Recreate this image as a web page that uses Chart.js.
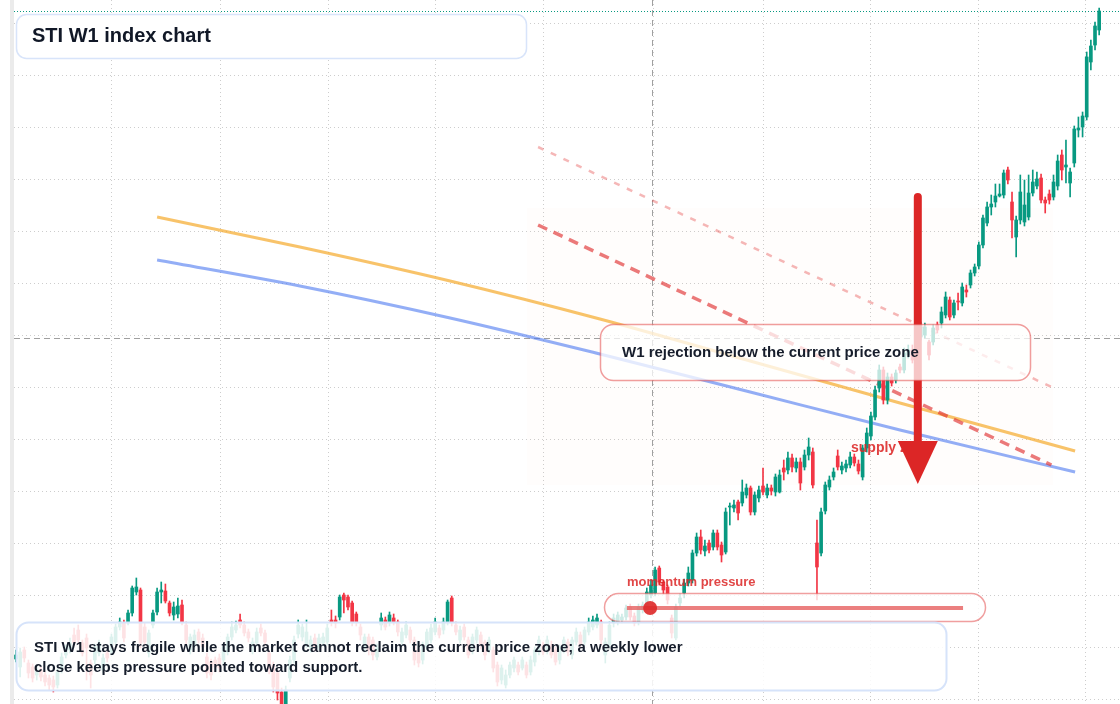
<!DOCTYPE html>
<html>
<head>
<meta charset="utf-8">
<title>STI W1 index chart</title>
<script src="https://cdn.jsdelivr.net/npm/chart.js@4.4.1/dist/chart.umd.min.js"></script>
<style>
    html, body { margin: 0; padding: 0; background: #ffffff; }
    #wrap { width: 1120px; height: 704px; }
</style>
</head>
<body>
<div id="wrap"><canvas id="chart" width="1120" height="704"></canvas></div>
<script>
// ==========================================================
// STI W1 - weekly candles
// ==========================================================

const opens = [
    3041,3033,3050,3037,3033,3025,3030,3025,3022,3020,
    3015,3030,3045,3050,3065,3070,3057,3062,3037,3040,
    3047,3030,3047,3048,3058,3073,3077,3078,3087,3108,
    3110,3073,3047,3075,3088,3108,3109,3097,3085,3086,
    3095,3075,3050,3055,3068,3062,3043,3038,3040,3042,
    3040,3048,3063,3070,3080,3075,3068,3050,3057,3072,
    3067,3047,3035,3027,3008,2972,3022,3040,3066,3063,
    3055,3052,3062,3053,3057,3058,3080,3080,3083,3105,
    3103,3097,3086,3073,3053,3063,3060,3043,3075,3080,
    3078,3082,3078,3058,3065,3070,3060,3050,3040,3053,
    3060,3068,3072,3070,3078,3102,3075,3060,3073,3060,
    3050,3060,3065,3058,3050,3050,3035,3020,3015,3025,
    3032,3035,3032,3035,3028,3038,3048,3055,3050,3055,
    3050,3040,3050,3058,3045,3058,3065,3058,3068,3073,
    3075,3078,3045,3055,3077,3078,3080,3083,3093,3084,
    3078,3090,3093,3105,3107,3132,3118,3113,3082,3062,
    3097,3107,3117,3120,3147,3163,3149,3157,3153,3167,
    3155,3148,3193,3192,3198,3197,3205,3212,3188,3202,
    3214,3205,3212,3208,3208,3232,3230,3242,3232,3238,
    3233,3245,3248,3157,3147,3189,3213,3223,3244,3230,
    3232,3235,3243,3236,3223,3252,3264,3283,3312,3330,
    3300,3323,3320,3333,3330,3345,3350,3350,3363,3365,
    3358,3358,3375,3377,3385,3400,3385,3399,3397,3410,
    3415,3427,3434,3455,3477,3493,3498,3504,3505,3530,
    3498,3463,3480,3478,3483,3507,3514,3522,3500,3506,
    3503,3514,3545,3533,3517,3537,3570,3573,3583,3638,
    3655,3670
];

const highs = [
    3050,3052,3053,3040,3036,3034,3033,3028,3025,3024,
    3031,3047,3055,3062,3072,3075,3060,3066,3040,3056,
    3060,3046,3050,3066,3076,3082,3080,3090,3114,3122,
    3112,3077,3070,3090,3112,3118,3116,3099,3098,3102,
    3100,3078,3066,3070,3071,3066,3047,3041,3043,3046,
    3056,3066,3078,3079,3086,3078,3071,3062,3072,3076,
    3070,3050,3038,3030,3012,3014,3044,3064,3080,3076,
    3080,3064,3066,3066,3067,3076,3090,3084,3105,3107,
    3105,3099,3088,3076,3066,3066,3063,3056,3087,3083,
    3088,3086,3080,3072,3078,3073,3063,3053,3058,3071,
    3076,3082,3075,3082,3100,3104,3078,3074,3076,3063,
    3066,3073,3068,3060,3063,3053,3038,3035,3030,3038,
    3043,3038,3043,3038,3044,3053,3064,3058,3064,3059,
    3053,3055,3063,3061,3063,3072,3068,3073,3082,3084,
    3086,3080,3062,3078,3086,3088,3086,3095,3096,3087,
    3096,3098,3112,3120,3133,3134,3120,3115,3085,3096,
    3106,3121,3133,3150,3167,3170,3160,3160,3170,3170,
    3158,3192,3197,3200,3200,3220,3216,3214,3208,3214,
    3232,3216,3215,3226,3230,3240,3248,3246,3242,3242,
    3250,3262,3252,3180,3192,3218,3224,3232,3250,3238,
    3240,3248,3246,3240,3255,3272,3288,3314,3335,3333,
    3327,3326,3330,3336,3352,3355,3355,3364,3378,3377,
    3360,3375,3378,3393,3408,3403,3400,3407,3417,3415,
    3430,3436,3458,3485,3498,3505,3516,3516,3530,3533,
    3508,3484,3525,3520,3525,3530,3528,3526,3503,3510,
    3525,3545,3550,3560,3532,3574,3583,3588,3648,3660,
    3678,3692
];

const lows = [
    3038,3023,3038,3022,3018,3020,3019,3014,3010,3008,
    3012,3027,3042,3047,3054,3056,3044,3020,3012,3036,
    3044,3027,3038,3045,3055,3070,3058,3075,3084,3105,
    3052,3055,3043,3072,3085,3097,3097,3084,3080,3082,
    3075,3056,3046,3052,3057,3050,3022,3020,3028,3028,
    3036,3045,3060,3067,3072,3064,3058,3046,3054,3064,
    3055,3026,3008,3000,2950,2955,3018,3037,3062,3059,
    3052,3048,3049,3050,3054,3055,3074,3072,3080,3087,
    3090,3074,3074,3060,3048,3045,3040,3040,3070,3070,
    3074,3075,3064,3054,3062,3057,3035,3033,3036,3050,
    3057,3065,3062,3066,3075,3074,3065,3057,3060,3042,
    3046,3057,3051,3040,3047,3028,3014,3016,3012,3022,
    3028,3025,3030,3022,3025,3034,3045,3045,3046,3042,
    3035,3036,3047,3044,3041,3055,3052,3055,3065,3070,
    3072,3055,3037,3052,3073,3075,3077,3080,3080,3074,
    3075,3087,3090,3102,3104,3115,3106,3096,3062,3060,
    3094,3102,3114,3117,3144,3146,3144,3147,3150,3150,
    3138,3146,3175,3188,3180,3194,3202,3185,3185,3198,
    3205,3202,3205,3204,3207,3220,3226,3228,3228,3210,
    3230,3240,3212,3100,3144,3186,3210,3220,3230,3226,
    3228,3232,3234,3226,3220,3248,3260,3280,3308,3296,
    3296,3314,3317,3327,3327,3342,3337,3347,3360,3362,
    3340,3355,3367,3372,3382,3380,3382,3390,3394,3403,
    3412,3424,3431,3452,3474,3485,3493,3503,3502,3516,
    3462,3443,3476,3474,3480,3504,3511,3497,3487,3496,
    3500,3510,3520,3517,3503,3533,3563,3563,3580,3630,
    3650,3665
];

const closes = [
    3045,3048,3042,3027,3022,3030,3023,3018,3015,3013,
    3028,3043,3052,3057,3057,3060,3047,3052,3025,3053,
    3057,3042,3042,3063,3073,3078,3062,3087,3112,3113,
    3057,3058,3067,3087,3108,3110,3099,3087,3093,3094,
    3078,3060,3063,3065,3060,3053,3027,3025,3033,3032,
    3053,3063,3073,3075,3075,3067,3062,3058,3068,3067,
    3058,3030,3013,3007,2970,3010,3040,3060,3075,3073,
    3068,3060,3052,3062,3063,3072,3078,3077,3103,3100,
    3093,3078,3078,3065,3063,3050,3045,3052,3082,3073,
    3085,3078,3068,3068,3075,3060,3040,3037,3055,3068,
    3072,3078,3065,3078,3098,3078,3068,3070,3063,3045,
    3063,3070,3055,3045,3060,3032,3018,3032,3025,3035,
    3040,3028,3040,3025,3040,3050,3060,3048,3060,3045,
    3038,3052,3060,3048,3060,3068,3055,3070,3078,3080,
    3082,3060,3058,3075,3082,3085,3083,3092,3083,3077,
    3093,3095,3108,3115,3130,3118,3110,3100,3067,3093,
    3102,3117,3127,3147,3163,3150,3154,3150,3167,3153,
    3145,3188,3194,3195,3187,3208,3212,3188,3205,3210,
    3208,3212,3209,3223,3225,3228,3242,3233,3238,3217,
    3245,3253,3215,3133,3188,3215,3220,3228,3233,3234,
    3236,3243,3237,3229,3252,3267,3284,3310,3330,3300,
    3323,3317,3327,3330,3347,3350,3340,3360,3373,3373,
    3345,3372,3370,3388,3403,3383,3397,3398,3413,3408,
    3427,3433,3455,3482,3493,3496,3504,3506,3527,3520,
    3480,3480,3508,3495,3507,3518,3521,3500,3497,3500,
    3518,3539,3530,3535,3528,3571,3572,3584,3643,3654,
    3674,3689
];

// Half-year separators (week index) and price grid
const gridWeeks = [22.9, 49.2, 75.2, 101.2, 127.2, 153.5, 180.0, 205.8, 232.0, 257.8];
const gridPrices = [3677, 3625, 3573, 3521, 3469, 3417, 3365, 3313, 3261, 3209, 3157, 3105, 3053, 3001];

// Projected averages
const averageWeeks = [34.0, 68.4, 104.6, 140.7, 176.9, 213.0, 255.2];
const fastAverage = [3483, 3453, 3419, 3381, 3339, 3297, 3249];
const slowAverage = [3440, 3414, 3382, 3346, 3308, 3270, 3228];

// Falling channel
const channelWeeks = [125.8, 249.5];
const channelUpper = [3553, 3313];
const channelLower = [3475, 3235];

// Annotations
const zoneWeeks = [123.1, 249.9];
const zonePrices = [3215, 3492];
const crossWeek = 153.3;
const crossPrice = 3362;
const arrowWeek = 217.3;
const arrowPrices = [3503, 3259, 3216];
const momentumWeeks = [147.2, 228.2];
const momentumDotWeek = 152.8;
const momentumPrice = 3092;

// ==========================================================
// Colours
// ==========================================================

const CORES = {
    alta: "#089981",
    baixa: "#F23645",
    laranja: "rgba(245,166,35,0.68)",
    azul: "rgba(75,120,240,0.6)",
    canal: "rgba(225,50,50,0.65)",
    canalClaro: "rgba(225,50,50,0.35)",
    vermelho: "#DC2626",
    grade: "#cdcdcd",
    texto: "#161d2b"
};

const FONTE = "'Liberation Sans', Arial, sans-serif";

const weeks = closes.map((_, i) => i);
const candleColors = weeks.map(i => closes[i] >= opens[i] ? CORES.alta : CORES.baixa);

// ==========================================================
// Overlay drawing
// ==========================================================

function roundBox(ctx, x, y, w, h, r, fill, stroke, lw){
    ctx.beginPath();
    ctx.roundRect(x, y, w, h, r);
    ctx.fillStyle = fill;
    ctx.fill();
    ctx.lineWidth = lw;
    ctx.strokeStyle = stroke;
    ctx.stroke();
}

const overlayPlugin = {

    id: "overlay",

    beforeDraw(chart){
        const {ctx, width, height} = chart;
        ctx.save();
        ctx.fillStyle = "#ffffff";
        ctx.fillRect(0, 0, width, height);
        ctx.fillStyle = "#ebebeb";
        ctx.fillRect(10, 0, 4, height);
        ctx.restore();
    },

    beforeDatasetsDraw(chart){
        const {ctx, chartArea: a, scales: {x, y}} = chart;
        ctx.save();

        // supply zone
        const zx0 = x.getPixelForValue(zoneWeeks[0]);
        const zx1 = x.getPixelForValue(zoneWeeks[1]);
        const zy0 = y.getPixelForValue(zonePrices[1]);
        const zy1 = y.getPixelForValue(zonePrices[0]);
        ctx.fillStyle = "rgba(240,160,120,0.025)";
        ctx.fillRect(zx0, zy0, zx1 - zx0, zy1 - zy0);

        // crosshair
        ctx.lineWidth = 1;
        ctx.strokeStyle = "#a0a0a0";
        ctx.setLineDash([6, 4]);
        const cx = Math.round(x.getPixelForValue(crossWeek)) + 0.5;
        ctx.beginPath();
        ctx.moveTo(cx, a.top);
        ctx.lineTo(cx, a.bottom);
        ctx.stroke();
        const cy = Math.round(y.getPixelForValue(crossPrice)) + 0.5;
        ctx.beginPath();
        ctx.moveTo(a.left, cy);
        ctx.lineTo(a.right, cy);
        ctx.stroke();

        // last close
        ctx.strokeStyle = CORES.alta;
        ctx.setLineDash([1, 2]);
        const ly = Math.round(y.getPixelForValue(closes[closes.length - 1])) + 0.5;
        ctx.beginPath();
        ctx.moveTo(a.left, ly);
        ctx.lineTo(a.right, ly);
        ctx.stroke();

        ctx.restore();
    },

    afterDatasetsDraw(chart){
        const {ctx, scales: {x, y}} = chart;
        ctx.save();
        ctx.textBaseline = "middle";
        ctx.textAlign = "left";

        // supply zone label
        ctx.font = "bold 14px " + FONTE;
        ctx.fillStyle = "rgba(220,38,38,0.88)";
        ctx.fillText("supply zone", 851, 448);

        // arrow
        const ax = x.getPixelForValue(arrowWeek);
        ctx.strokeStyle = CORES.vermelho;
        ctx.lineWidth = 8;
        ctx.lineCap = "round";
        ctx.beginPath();
        ctx.moveTo(ax, y.getPixelForValue(arrowPrices[0]));
        ctx.lineTo(ax, y.getPixelForValue(arrowPrices[1]) + 4);
        ctx.stroke();
        ctx.fillStyle = CORES.vermelho;
        ctx.beginPath();
        ctx.moveTo(ax - 20, y.getPixelForValue(arrowPrices[1]));
        ctx.lineTo(ax + 20, y.getPixelForValue(arrowPrices[1]));
        ctx.lineTo(ax, y.getPixelForValue(arrowPrices[2]));
        ctx.closePath();
        ctx.fill();

        // rejection label
        roundBox(ctx, 600.5, 324.5, 430, 56, 13, "rgba(255,255,255,0.74)", "rgba(225,60,60,0.5)", 1.5);
        ctx.font = "bold 15px " + FONTE;
        ctx.fillStyle = CORES.texto;
        ctx.fillText("W1 rejection below the current price zone", 622, 353);

        // momentum pressure
        roundBox(ctx, 604.5, 593.5, 381, 28, 14, "rgba(255,255,255,0.8)", "rgba(228,80,80,0.55)", 1.5);
        const my = y.getPixelForValue(momentumPrice);
        ctx.strokeStyle = "rgba(230,95,95,0.8)";
        ctx.lineWidth = 4;
        ctx.lineCap = "butt";
        ctx.beginPath();
        ctx.moveTo(x.getPixelForValue(momentumWeeks[0]), my);
        ctx.lineTo(x.getPixelForValue(momentumWeeks[1]), my);
        ctx.stroke();
        ctx.fillStyle = "rgba(222,40,40,0.9)";
        ctx.beginPath();
        ctx.arc(x.getPixelForValue(momentumDotWeek), my, 7, 0, Math.PI * 2);
        ctx.fill();
        ctx.font = "bold 13px " + FONTE;
        ctx.fillStyle = "rgba(220,38,38,0.85)";
        ctx.fillText("momentum pressure", 627, 582);

        // title
        roundBox(ctx, 16.5, 14.5, 510, 44, 10, "#ffffff", "#d8e4fa", 1.5);
        ctx.font = "bold 20px " + FONTE;
        ctx.fillStyle = "#111827";
        ctx.fillText("STI W1 index chart", 32, 36);

        // commentary
        roundBox(ctx, 16.5, 622.5, 930, 68, 12, "rgba(255,255,255,0.86)", "#d6e3fa", 2);
        ctx.font = "bold 15px " + FONTE;
        ctx.fillStyle = CORES.texto;
        ctx.fillText("STI W1 stays fragile while the market cannot reclaim the current price zone; a weekly lower", 34, 648);
        ctx.fillText("close keeps pressure pointed toward support.", 34, 668);

        ctx.restore();
    }

};

// ==========================================================
// Chart
// ==========================================================

new Chart(document.getElementById("chart"), {

    type: "bar",

    data: {
        datasets: [
            {
                type: "line",
                data: averageWeeks.map((w, k) => ({x: w, y: slowAverage[k]})),
                borderColor: CORES.azul,
                borderWidth: 3,
                pointRadius: 0,
                cubicInterpolationMode: "monotone",
                order: 6
            },
            {
                type: "line",
                data: averageWeeks.map((w, k) => ({x: w, y: fastAverage[k]})),
                borderColor: CORES.laranja,
                borderWidth: 3,
                pointRadius: 0,
                cubicInterpolationMode: "monotone",
                order: 5
            },
            {
                type: "line",
                data: channelWeeks.map((w, k) => ({x: w, y: channelUpper[k]})),
                borderColor: CORES.canalClaro,
                borderWidth: 2.5,
                borderDash: [6, 8],
                pointRadius: 0,
                order: 4
            },
            {
                type: "line",
                data: channelWeeks.map((w, k) => ({x: w, y: channelLower[k]})),
                borderColor: CORES.canal,
                borderWidth: 3.5,
                borderDash: [10, 7],
                pointRadius: 0,
                order: 3
            },
            {
                data: weeks.map(i => ({x: i, y: [lows[i], highs[i]]})),
                backgroundColor: candleColors,
                barThickness: 1,
                grouped: false,
                order: 2
            },
            {
                data: weeks.map(i => ({x: i, y: [opens[i], closes[i]]})),
                backgroundColor: candleColors,
                barThickness: 3,
                minBarLength: 1,
                grouped: false,
                order: 1
            }
        ]
    },

    options: {
        responsive: false,
        animation: false,
        events: [],
        layout: {
            padding: {left: 14, right: 0, top: 0, bottom: 0}
        },
        plugins: {
            legend: {display: false},
            tooltip: {enabled: false}
        },
        scales: {
            x: {
                type: "linear",
                min: -0.48,
                max: 266.02,
                offset: false,
                afterBuildTicks: axis => { axis.ticks = gridWeeks.map(v => ({value: v})); },
                ticks: {display: false},
                grid: {offset: false, drawTicks: false, color: CORES.grade},
                border: {display: false, dash: [1, 3]}
            },
            y: {
                type: "linear",
                min: 2996,
                max: 3700,
                beginAtZero: false,
                afterBuildTicks: axis => { axis.ticks = gridPrices.map(v => ({value: v})); },
                ticks: {display: false},
                grid: {drawTicks: false, color: CORES.grade},
                border: {display: false, dash: [1, 3]}
            }
        }
    },

    plugins: [overlayPlugin]

});
</script>
</body>
</html>
